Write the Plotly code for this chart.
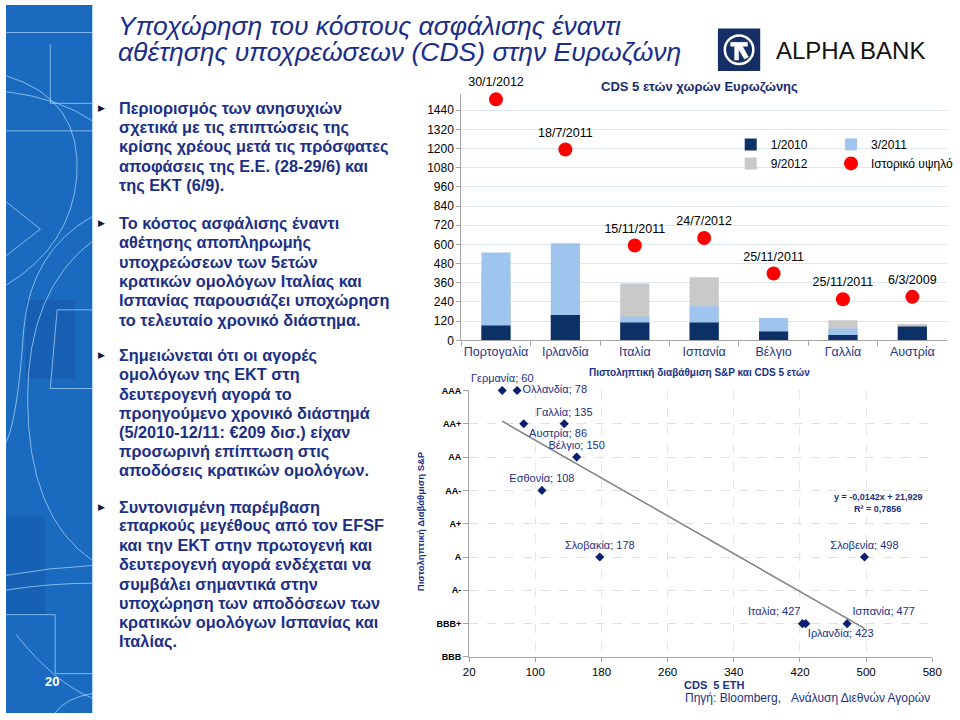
import plotly.graph_objects as go

W, H = 960, 720


def px(x):
    return x / W


def py(y):
    return 1 - y / H


FONT = "Liberation Sans, Arial, sans-serif"
NAVY = "#1c2f86"

# ---------------- data: top chart ----------------
countries = ["Πορτογαλία", "Ιρλανδία", "Ιταλία", "Ισπανία", "Βέλγιο", "Γαλλία", "Αυστρία"]
cds_jan2010 = [92, 158, 111, 111, 55, 33, 86]
cds_mar2011 = [550, 607, 148, 213, 140, 74, 65]
cds_sep2012 = [420, 230, 355, 394, 115, 125, 102]
cds_peak = [1508, 1194, 593, 640, 418, 257, 272]
peak_dates = ["30/1/2012", "18/7/2011", "15/11/2011", "24/7/2012",
              "25/11/2011", "25/11/2011", "6/3/2009"]
top_ticks = [0, 120, 240, 360, 480, 600, 720, 840, 960, 1080, 1200, 1320, 1440]

# ---------------- data: bottom chart ----------------
sc_countries = ["Γερμανία", "Ολλανδία", "Αυστρία", "Γαλλία", "Βέλγιο", "Εσθονία",
                "Σλοβακία", "Σλοβενία", "Ιταλία", "Ιρλανδία", "Ισπανία"]
sc_cds = [60, 78, 86, 135, 150, 108, 178, 498, 427, 423, 477]
sc_rating = ["AAA", "AAA", "AA+", "AA+", "AA", "AA-", "A", "A", "BBB+", "BBB+", "BBB+"]
rating_labels = ["BBB", "BBB+", "A-", "A", "A+", "AA-", "AA", "AA+", "AAA"]
rating_scores = [14, 15, 16, 17, 18, 19, 20, 21, 22]
trend_slope = -0.0142
trend_intercept = 21.929
r_squared = 0.7856
bottom_xticks = [20, 100, 180, 260, 340, 420, 500, 580]

# label placement (style)
sc_textpos = ["top center", "middle right", "bottom right", "top center", "top center",
              "top center", "top center", "top center", "top left", "bottom right",
              "top right"]

score_of = dict(zip(rating_labels, rating_scores))
sc_scores = [score_of[r] for r in sc_rating]
trend_x = [min(sc_cds), max(sc_cds)]
trend_y = [trend_slope * v + trend_intercept for v in trend_x]

fig = go.Figure()

# bars (overlaid: back to front)
fig.add_trace(go.Bar(x=countries, y=cds_sep2012, name="9/2012", width=0.42,
                     marker=dict(color="#c9c9c9", line=dict(width=0)),
                     legend="legend", legendrank=2, xaxis="x", yaxis="y"))
fig.add_trace(go.Bar(x=countries, y=cds_mar2011, name="3/2011", width=0.42,
                     marker=dict(color="#9fc5ef", line=dict(width=0)),
                     legend="legend2", legendrank=1, xaxis="x", yaxis="y"))
fig.add_trace(go.Bar(x=countries, y=cds_jan2010, name="1/2010", width=0.42,
                     marker=dict(color="#0c3166", line=dict(width=0)),
                     legend="legend", legendrank=1, xaxis="x", yaxis="y"))
fig.add_trace(go.Scatter(x=countries, y=cds_peak, name="Ιστορικό υψηλό", mode="markers+text",
                         marker=dict(color="#ff0000", size=14),
                         text=peak_dates, textposition="top center",
                         textfont=dict(size=12.5, color="#000000", family=FONT),
                         cliponaxis=False, legend="legend2", legendrank=2,
                         xaxis="x", yaxis="y"))

# scatter chart
fig.add_trace(go.Scatter(x=trend_x, y=trend_y, mode="lines", showlegend=False,
                         line=dict(color="#7f7f7f", width=1.5), hoverinfo="skip",
                         xaxis="x2", yaxis="y2"))
fig.add_trace(go.Scatter(x=sc_cds, y=sc_scores, mode="markers+text", showlegend=False,
                         marker=dict(symbol="diamond", size=7, color="#0c1f6e"),
                         text=[f"{c}; {v}" for c, v in zip(sc_countries, sc_cds)],
                         textposition=sc_textpos,
                         textfont=dict(size=11, color=NAVY, family=FONT),
                         cliponaxis=False, xaxis="x2", yaxis="y2"))

shapes = []
# left blue strip
shapes.append(dict(type="rect", xref="paper", yref="paper", x0=0, x1=px(88), y0=0, y1=1,
                   fillcolor="#1a6bbf", line=dict(width=0), layer="below"))
shapes.append(dict(type="rect", xref="paper", yref="paper", x0=px(20), x1=px(70), y0=py(380), y1=py(300),
                   fillcolor="rgba(10,60,140,0.25)", line=dict(width=0), layer="below"))
shapes.append(dict(type="rect", xref="paper", yref="paper", x0=px(0), x1=px(40), y0=py(620), y1=py(520),
                   fillcolor="rgba(10,60,140,0.2)", line=dict(width=0), layer="below"))


def pth(points):
    parts = []
    for cmd, coords in points:
        if cmd == "L":
            for a, b in coords:
                parts.append(f"L{px(a):.5f},{py(b):.5f}")
        elif cmd == "Z":
            parts.append("Z")
        else:
            parts.append(cmd + " ".join(f"{px(a):.5f},{py(b):.5f}" for a, b in coords))
    return " ".join(parts)


deco = [
    [("M", [(0, 28)]), ("L", [(88, 28)])],
    [("M", [(0, 72)]), ("Q", [(78, 95), (72, 175)]), ("Q", [(66, 245), (0, 285)])],
    [("M", [(0, 88)]), ("Q", [(55, 95), (88, 118)])],
    [("M", [(0, 128)]), ("L", [(88, 128)])],
    [("M", [(45, 40)]), ("L", [(45, 100), (88, 100)])],
    [("M", [(0, 200)]), ("L", [(35, 228), (0, 255)])],
    [("M", [(88, 215)]), ("Q", [(25, 250), (18, 330)]), ("Q", [(12, 420), (0, 445)])],
    [("M", [(88, 240)]), ("Q", [(22, 290), (22, 400)]), ("Q", [(22, 520), (88, 565)])],
    [("M", [(88, 310)]), ("L", [(52, 310), (45, 390), (88, 390)])],
    [("M", [(0, 580)]), ("Q", [(45, 572), (88, 570)])],
    [("M", [(0, 595)]), ("Q", [(45, 588), (88, 588)])],
    [("M", [(0, 620)]), ("L", [(50, 620), (50, 680), (88, 680)])],
    [("M", [(10, 640)]), ("Q", [(50, 690), (88, 705)])],
    [("M", [(88, 700)]), ("Q", [(60, 705), (50, 720)])],
]
for d in deco:
    shapes.append(dict(type="path", xref="paper", yref="paper", path=pth(d),
                       line=dict(color="rgba(170,210,250,0.75)", width=1), layer="below"))
shapes.append(dict(type="line", xref="paper", yref="paper", x0=px(88), x1=px(88), y0=0, y1=1,
                   line=dict(color="rgba(200,225,250,0.8)", width=1), layer="below"))

# logo
shapes.append(dict(type="rect", xref="paper", yref="paper", x0=px(724), x1=px(767), y0=py(67), y1=py(24),
                   fillcolor="#152f66", line=dict(width=0)))
shapes.append(dict(type="circle", xref="paper", yref="paper", x0=px(731), x1=px(760), y0=py(60), y1=py(31),
                   fillcolor="rgba(0,0,0,0)", line=dict(color="white", width=2.5)))
shapes.append(dict(type="path", xref="paper", yref="paper",
                   path=pth([("M", [(737, 38)]),
                             ("L", [(754, 38), (754, 42), (749, 42), (755, 53), (751, 55),
                                    (745, 45), (745, 56), (741, 56), (741, 42), (737, 42)]),
                             ("Z", [])]),
                   fillcolor="white", line=dict(color="white", width=0.5)))

annotations = []


def ann(text, x, y, size, color="#000000", xanchor="left", yanchor="middle", align="left", **kw):
    annotations.append(dict(text=text, x=px(x), y=py(y), xref="paper", yref="paper",
                            showarrow=False, xanchor=xanchor, yanchor=yanchor, align=align,
                            font=dict(size=size, color=color, family=FONT), **kw))


# title
ann("<i>Υποχώρηση του κόστους ασφάλισης έναντι</i>", 112, 21, 26.5, "#1a2d8a")
ann("<i>αθέτησης υποχρεώσεων (CDS) στην Ευρωζώνη</i>", 112, 48, 26.5, "#1a2d8a")
ann("ALPHA BANK", 781, 46, 24, "#111111")
ann("<b>20</b>", 47, 688, 13, "#ffffff", xanchor="center")

# bullets
bullets = [
    (105, ["Περιορισμός των ανησυχιών", "σχετικά με τις επιπτώσεις της",
           "κρίσης χρέους μετά τις πρόσφατες", "αποφάσεις της Ε.Ε. (28-29/6) και",
           "της ΕΚΤ (6/9)."]),
    (222, ["Το κόστος ασφάλισης έναντι", "αθέτησης αποπληρωμής", "υποχρεώσεων των 5ετών",
           "κρατικών ομολόγων Ιταλίας και", "Ισπανίας παρουσιάζει υποχώρηση",
           "το τελευταίο χρονικό διάστημα."]),
    (356, ["Σημειώνεται ότι οι αγορές", "ομολόγων της ΕΚΤ στη", "δευτερογενή αγορά το",
           "προηγούμενο χρονικό διάστημά", "(5/2010-12/11: €209 δισ.) είχαν",
           "προσωρινή επίπτωση στις", "αποδόσεις κρατικών ομολόγων."]),
    (510, ["Συντονισμένη παρέμβαση", "επαρκούς μεγέθους από τον EFSF",
           "και την ΕΚΤ στην πρωτογενή και", "δευτερογενή αγορά ενδέχεται να",
           "συμβάλει σημαντικά στην", "υποχώρηση των αποδόσεων των",
           "κρατικών ομολόγων Ισπανίας και", "Ιταλίας."]),
]
for y0, lines in bullets:
    ann("▶", 97, y0, 9, "#16163a", xanchor="center")
    for i, line in enumerate(lines):
        ann("<b>" + line + "</b>", 113, y0 + i * 19.6, 16.3, NAVY)

# chart texts
ann("<b>CDS 5 ετών χωρών Ευρωζώνης</b>", 705, 83, 13, "#1a2a6e", xanchor="center")
ann("<b>Πιστοληπτική διαβάθμιση S&P και CDS 5 ετών</b>", 705, 374, 10, NAVY, xanchor="center")
ann("<b>Πιστοληπτική Διαβάθμιση S&P</b>", 421, 525, 9.5, NAVY, xanchor="center", textangle=-90)
ann("<b>CDS\u00a0\u00a05 ΕΤΗ</b>", 721, 692, 11, NAVY, xanchor="center")
ann("Πηγή: Bloomberg,\u00a0\u00a0\u00a0Ανάλυση Διεθνών Αγορών", 688, 705, 12, NAVY)
ann(f"<b>y = {str(trend_slope).replace('.', ',')}x + {str(trend_intercept).replace('.', ',')}</b>",
    887, 500, 9, NAVY, xanchor="center")
ann(f"<b>R² = {str(r_squared).replace('.', ',')}</b>", 886, 513, 9, NAVY, xanchor="center")

top_ymax = (341 - 90) / (234 / 1440)

fig.update_layout(
    width=W, height=H, margin=dict(l=0, r=0, t=0, b=0),
    paper_bgcolor="white", plot_bgcolor="rgba(0,0,0,0)",
    font=dict(family=FONT, size=12, color="#000000"),
    barmode="overlay", bargap=0.58,
    shapes=shapes, annotations=annotations,
    xaxis=dict(domain=[px(463), px(957)], anchor="y", type="category",
               showline=True, linecolor="#a6a6a6", linewidth=1,
               ticks="outside", tickson="boundaries", ticklen=5, tickcolor="#a6a6a6",
               tickangle=0,
               tickfont=dict(size=12.5, color="#1f3488"), showgrid=False, fixedrange=True),
    yaxis=dict(domain=[py(341), py(90)], anchor="x", range=[0, top_ymax],
               tickvals=top_ticks, showline=True, linecolor="#a6a6a6", linewidth=1,
               ticks="outside", ticklen=4, tickcolor="#a6a6a6",
               gridcolor="#dbe6f0", gridwidth=1, zeroline=False,
               tickfont=dict(size=12, color="#000000")),
    xaxis2=dict(domain=[px(471), px(942)], anchor="y2", range=[20, 580],
                tickvals=bottom_xticks, showline=True, linecolor="#a6a6a6",
                ticks="outside", ticklen=4, tickcolor="#a6a6a6",
                gridcolor="#e6e6e6", griddash="dash", zeroline=False,
                tickfont=dict(size=11.5, color="#000000")),
    yaxis2=dict(domain=[py(663), py(392)], anchor="x2", range=[14, 22],
                tickvals=rating_scores, ticktext=[f"<b>{t}</b>" for t in rating_labels],
                showline=True, linecolor="#a6a6a6", ticks="outside", ticklen=5,
                tickcolor="#a6a6a6", gridcolor="#e0e0e0", griddash="dash", zeroline=False,
                tickfont=dict(size=9, color="#000000")),
    legend=dict(x=px(737), y=py(127), xanchor="left", yanchor="top",
                bgcolor="rgba(0,0,0,0)", font=dict(size=12), itemwidth=30,
                traceorder="normal"),
    legend2=dict(x=px(839), y=py(127), xanchor="left", yanchor="top",
                 bgcolor="rgba(0,0,0,0)", font=dict(size=12), itemwidth=30,
                 traceorder="normal"),
)

fig.write_html("out.html", config={"displayModeBar": False},
               post_script="document.body.style.margin='0';document.body.style.overflow='hidden';")
